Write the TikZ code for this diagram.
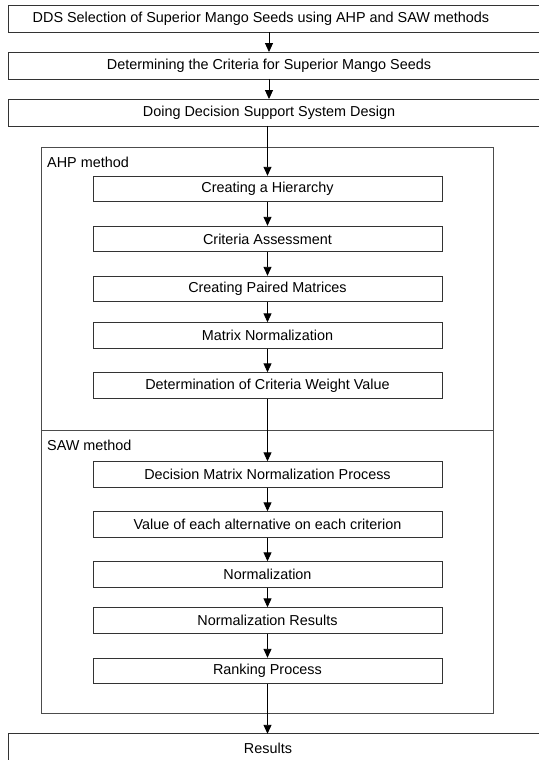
\documentclass[tikz,border=0pt]{standalone}
\usepackage{fontspec}
\setmainfont{Liberation Sans}
\usetikzlibrary{arrows.meta}

\begin{document}
\begin{tikzpicture}[
      x=1pt, y=-1pt,
      every node/.style={align=center, font=\fontsize{14.4}{17}\selectfont},
      arrow/.style={-{Triangle[width=8pt,length=9pt]}, line width=0.9pt},
      box/.style={draw=black!80, line width=0.9pt, minimum width=349pt, minimum height=25.5pt, inner sep=0pt},
      widebox/.style={minimum height=26.5pt, inner sep=0pt},
      frame/.style={draw=black!70, line width=0.9pt}
    ]
      \useasboundingbox (0,0) rectangle (538,760);
      \coordinate (lft) at (8,0);
      \coordinate (rgt) at (560,0);

      % Steps on top
      \node[widebox] (dds) at (261,19) {DDS Selection of Superior Mango Seeds using AHP and SAW methods};
      \node[widebox] (criteria) at (269,65.5) {Determining the Criteria for Superior Mango Seeds};
      \node[widebox] (design) at (269,112.5) {Doing Decision Support System Design};
      \foreach \n in {dds,criteria,design}
        \draw[frame, draw=black!80] (\n.north -| lft) rectangle (\n.south -| rgt);

      % Frame for both methods
      \draw[frame] (41,147) rectangle (493,713);
      \draw[frame] (41,430) -- (493,430);
      \node[anchor=west, inner sep=0pt] (ahp) at (47,162) {AHP method};
      \node[anchor=west, inner sep=0pt] (saw) at (47,445) {SAW method};

      % AHP steps
      \node[box] (hierarchy) at (267.5,189) {Creating a Hierarchy};
      \node[box] (assess) at (267.5,239) {Criteria Assessment};
      \node[box] (paired) at (267.5,289) {Creating Paired Matrices};
      \node[box] (matnorm) at (267.5,335.5) {Matrix Normalization};
      \node[box] (weight) at (267.5,385.5) {Determination of Criteria Weight Value};

      % SAW steps
      \node[box] (decision) at (267.5,474.5) {Decision Matrix Normalization Process};
      \node[box] (value) at (267.5,524.5) {Value of each alternative on each criterion};
      \node[box] (norm) at (267.5,574.5) {Normalization};
      \node[box] (normres) at (267.5,620.5) {Normalization Results};
      \node[box] (ranking) at (267.5,671) {Ranking Process};

      % Result at the bottom
      \node[widebox, minimum height=28pt] (results) at (268,748) {Results};
      \draw[frame, draw=black!80] (results.north -| lft) rectangle (rgt |- 0,800);

      % Arrows
      \draw[arrow] (dds.south -| criteria) -- (criteria);
      \draw[arrow] (criteria) -- (design);
      \draw[arrow] (design.south -| hierarchy) -- (hierarchy);
      \draw[arrow] (hierarchy) -- (assess);
      \draw[arrow] (assess) -- (paired);
      \draw[arrow] (paired) -- (matnorm);
      \draw[arrow] (matnorm) -- (weight);
      \draw[arrow] (weight) -- (decision);
      \draw[arrow] (decision) -- (value);
      \draw[arrow] (value) -- (norm);
      \draw[arrow] (norm) -- (normres);
      \draw[arrow] (normres) -- (ranking);
      \draw[arrow] (ranking) -- (results.north -| ranking);
    \end{tikzpicture}
\end{document}
